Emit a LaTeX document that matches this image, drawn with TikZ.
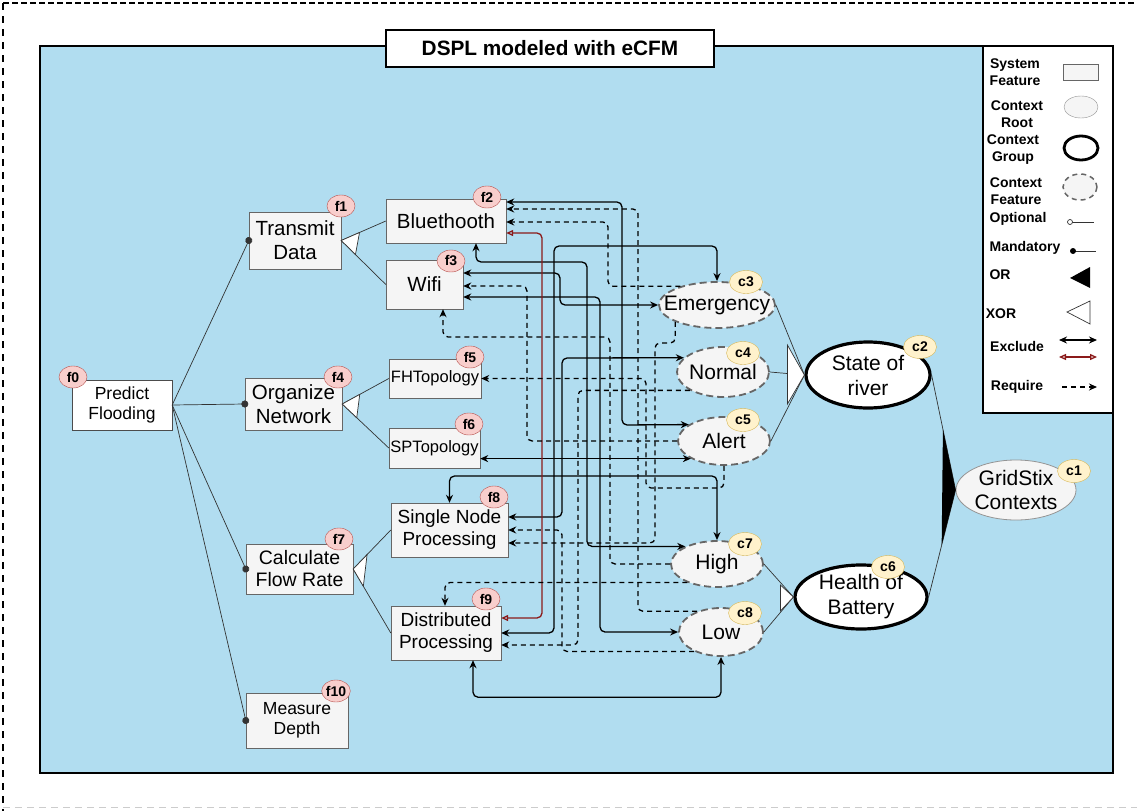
\documentclass[tikz,border=0pt]{standalone}
\usepackage{fontspec}
\setmainfont{Liberation Sans}
\usetikzlibrary{arrows.meta,calc,shapes.geometric}
\definecolor{panelblue}{HTML}{B1DDF0}
\definecolor{featfill}{HTML}{F5F5F5}
\definecolor{featline}{HTML}{666666}
\definecolor{fbadgefill}{HTML}{F8CECC}
\definecolor{fbadgeline}{HTML}{B85450}
\definecolor{cbadgefill}{HTML}{FFF2CC}
\definecolor{cbadgeline}{HTML}{D6B656}
\definecolor{exclred}{HTML}{8B1A1A}
\tikzset{
  feat/.style={draw=featline, fill=featfill, align=center, inner sep=0pt, font=\fontsize{20.5}{24}\selectfont},
  cfeat/.style={ellipse, draw=featline, fill=featfill, line width=1.8pt, dash pattern=on 7pt off 4pt,
    align=center, inner xsep=-14pt, inner ysep=-4pt, font=\fontsize{21}{25}\selectfont},
  cgroup/.style={ellipse, draw=black, line width=3.2pt, fill=white,
    align=center, inner xsep=-14pt, inner ysep=-4pt, font=\fontsize{21}{25}\selectfont},
  croot/.style={ellipse, draw=featline!70, line width=0.8pt, fill=featfill,
    align=center, inner xsep=-14pt, inner ysep=-4pt, font=\fontsize{21}{24}\selectfont},
  fbadge/.style={ellipse, draw=fbadgeline, fill=fbadgefill, inner sep=0pt, minimum width=28pt,
    minimum height=22pt, font=\bfseries\fontsize{14}{14}\selectfont},
  cbadge/.style={fbadge, draw=cbadgeline, fill=cbadgefill, minimum width=33pt, minimum height=23pt},
  lgtext/.style={align=center, inner sep=0pt, font=\bfseries\fontsize{14}{17}\selectfont},
  tree/.style={draw=black!80, line width=0.7pt},
  mand/.style={-{Circle[length=7pt]}, shorten >=-3.5pt},
  xorsym/.style={draw=black!80, line width=0.7pt, fill=white},
  excl/.style={line width=1.3pt, rounded corners=5pt,
    {Stealth[length=8pt,width=7pt]}-{Stealth[length=8pt,width=7pt]}},
  rexcl/.style={draw=exclred, line width=1.3pt, rounded corners=5pt,
    {Triangle[open,length=7pt,width=6pt]}-{Triangle[open,length=7pt,width=6pt]}},
  req/.style={line width=1.3pt, rounded corners=5pt, dash pattern=on 5pt off 4pt,
    -{Stealth[length=8pt,width=7pt]}}
}
\begin{document}
\begin{tikzpicture}[x=1pt,y=-1pt]
\useasboundingbox (0,0) rectangle (1137,811);
\draw[line width=2pt, dash pattern=on 6pt off 3pt] (3,3) -- (1137,3);
\draw[line width=1.5pt, dash pattern=on 7pt off 6pt] (3,3) -- (3,811);
\draw[black!20, line width=1pt, dash pattern=on 7pt off 5pt] (3,807) -- (1137,807);
\draw[fill=panelblue, line width=2.2pt] (40,46) rectangle (1113,773);
\node[draw, line width=1.4pt, fill=white, minimum width=328pt, minimum height=37pt,
  font=\bfseries\fontsize{20.8}{23}\selectfont] (title) at (550,48.5) {DSPL modeled with eCFM};

\draw[fill=white, line width=1.5pt] (983,46) rectangle (1113,413);
\node[lgtext] (lsys) at (1015,72) {System\\Feature};
\node[lgtext] (lroot) at (1017,114) {Context\\Root};
\node[lgtext] (lgrp) at (1013,150) {Context\\Group};
\node[lgtext] (lfeat) at (1016,191) {Context\\Feature};
\node[lgtext] (lopt) at (1018,219) {Optional};
\node[lgtext] (lmand) at (1025,248) {Mandatory};
\node[lgtext] (lor) at (1000,275) {OR};
\node[lgtext] (lxor) at (1001,314) {XOR};
\node[lgtext] (lexcl) at (1017,346) {Exclude};
\node[lgtext] (lreq) at (1017,387) {Require};
\draw[draw=featline, fill=featfill] (1063,64) rectangle (1098,80);
\draw[draw=featline!70, fill=featfill] (1081,107) ellipse [x radius=17, y radius=11];
\draw[line width=2.8pt, fill=white] (1081,148) ellipse [x radius=17, y radius=12];
\draw[draw=featline, fill=featfill, line width=1.5pt, dash pattern=on 5pt off 4pt] (1080,187) ellipse [x radius=17, y radius=13];
\draw[tree] (1072,222) -- (1094,222);
\draw[tree, fill=white] (1070,222) circle (2.5);
\draw[tree] (1073,251) -- (1096,251);
\fill (1073,251) circle (3);
\fill (1070,278) -- (1090,267) -- (1090,288) -- cycle;
\draw[xorsym] (1067,312) -- (1090,301) -- (1090,324) -- cycle;
\draw[excl] (1059,340) -- (1097,340);
\draw[rexcl] (1059,357) -- (1097,357);
\draw[req] (1062,387) -- (1097,387);

\node[feat, fill=white, draw=black!70, minimum width=100pt, minimum height=50pt,
  font=\fontsize{17.5}{20}\selectfont] (f0) at (122,405) {Predict\\Flooding};
\node[feat, minimum width=92pt, minimum height=57pt] (f1) at (295,240.5) {Transmit\\Data};
\node[feat, minimum width=120pt, minimum height=44pt] (f2) at (446,221) {Bluethooth};
\node[feat, minimum width=77pt, minimum height=49pt] (f3) at (424.5,284.5) {Wifi};
\node[feat, minimum width=97pt, minimum height=52pt] (f4) at (293.5,404) {Organize\\Network};
\node[feat, minimum width=92pt, minimum height=39pt, font=\fontsize{16.5}{19}\selectfont] (f5) at (435,378.5) {FHTopology};
\node[feat, minimum width=91pt, minimum height=40pt, font=\fontsize{16.5}{19}\selectfont] (f6) at (434.5,448) {SPTopology};
\node[feat, minimum width=107pt, minimum height=50pt, font=\fontsize{19.5}{22}\selectfont] (f7) at (299.5,569) {Calculate\\Flow Rate};
\node[feat, minimum width=117pt, minimum height=54pt, font=\fontsize{19}{22}\selectfont] (f8) at (449.5,530) {Single Node\\Processing};
\node[feat, minimum width=110pt, minimum height=54pt, font=\fontsize{19}{22}\selectfont] (f9) at (446,633) {Distributed\\Processing};
\node[feat, minimum width=102pt, minimum height=55pt, font=\fontsize{17.5}{20}\selectfont] (f10) at (297,720.5) {Measure\\Depth};

\node[croot, minimum width=120pt, minimum height=60pt] (c1) at (1016,490) {GridStix\\Contexts};
\node[cgroup, minimum width=124pt, minimum height=66pt] (c2) at (868,375) {State of\\river};
\node[cfeat, minimum width=116pt, minimum height=46pt] (c3) at (717,305) {Emergency};
\node[cfeat, minimum width=92pt, minimum height=50pt] (c4) at (723,372) {Normal};
\node[cfeat, minimum width=92pt, minimum height=48pt] (c5) at (724,441) {Alert};
\node[cgroup, minimum width=132pt, minimum height=64pt] (c6) at (861,597) {Health of\\Battery};
\node[cfeat, minimum width=92pt, minimum height=46pt] (c7) at (717,564) {High};
\node[cfeat, minimum width=84pt, minimum height=48pt] (c8) at (721,632) {Low};

\draw[tree, mand] (f0.east) -- (f1.west);
\draw[tree, mand] (f0.east) -- (f4.west);
\draw[tree, mand] (f0.east) -- (f7.west);
\draw[tree, mand] (f0.east) -- (f10.west);
\draw[tree] (f1.east) -- (f2.west);
\draw[tree] (f1.east) -- (f3.west);
\draw[tree] (f4.east) -- (f5.west);
\draw[tree] (f4.east) -- (f6.west);
\draw[tree] (f7.east) -- (f8.west);
\draw[tree] (f7.east) -- (f9.west);
\draw[xorsym] (f1.east) -- ($(f1.east)!20pt!(f2.west)$) -- ($(f1.east)!20pt!(f3.west)$) -- cycle;
\draw[xorsym] (f4.east) -- ($(f4.east)!20pt!(f5.west)$) -- ($(f4.east)!20pt!(f6.west)$) -- cycle;
\draw[xorsym] (f7.east) -- ($(f7.east)!20pt!(f8.west)$) -- ($(f7.east)!20pt!(f9.west)$) -- cycle;
\draw[tree] (c3.east) -- (c2.west);
\draw[tree] (c4.east) -- (c2.west);
\draw[tree] (c5.east) -- (c2.west);
\draw[tree] (c7.east) -- (c6.west);
\draw[tree] (c8.east) -- (c6.west);
\draw[tree] (c2.east) -- (c1.west);
\draw[tree] (c6.east) -- (c1.west);
\draw[xorsym] (c2.west) -- ++(-17,-30) -- ++(0,59) -- cycle;
\draw[xorsym] (c6.west) -- ++(-13,-12) -- ++(0,26) -- cycle;
\fill (c1.west) -- ($(c1.west)!62pt!(c2.east)$) -- ($(c1.west)!57pt!(c6.east)$) -- cycle;

\draw[excl] (f2.east |- 0,202) -| (622,425) -- (c5.155);
\draw[excl] (f2.south -| 476,0) |- (587,262) |- (c7.151);
\draw[excl] (f3.east |- 0,273) -| (560,305) -- (c3.west);
\draw[excl] (f3.east |- 0,297) -| (600,632) -- (c8.west);
\draw[excl] (f6.east |- c5.208) -- (c5.208);
\draw[excl] (f8.east |- 0,517) -| (562,358) -- (c4.160);
\draw[excl] (f8.north) |- (c7.north |- 0,476) -- (c7.north);
\draw[excl] (f9.east) -| (554,246) -| (c3.north);
\draw[excl] (f9.south -| 473,0) -- ++(0,37) -| (c8.south);
\draw[rexcl] (f2.east |- 0,233) -| (542,618) -- (f9.east |- 0,618);

\draw[req] (c8.139) -| (638,209) -- (f2.east |- 0,209);
\draw[req] (c3.153) -| (608,222) -- (f2.east |- 0,222);
\draw[req] (c5.west) -| (527,286) -- (f3.east |- 0,286);
\draw[req] (c7.west) -| (610,337) -| (f3.south -| 443,0);
\draw[req] (c5.south) |- (646,488) |- (f5.east);
\draw[req] (c3.202) |- (655,343) |- (f8.east |- 0,543);
\draw[req] (c4.209) -| (578,645) -- (f9.east |- 0,645);
\draw[req] (c8.216) -| (562,530) -- (f8.east |- 0,530);
\draw[req] (c7.212) -| (f9.north -| 445,0);

\node[fbadge] (bf0) at (73,377) {f0};
\node[fbadge] (bf1) at (341,206) {f1};
\node[fbadge] (bf2) at (487,197) {f2};
\node[fbadge] (bf3) at (451,261) {f3};
\node[fbadge] (bf4) at (338,377) {f4};
\node[fbadge] (bf5) at (470,357) {f5};
\node[fbadge] (bf6) at (469,424) {f6};
\node[fbadge] (bf7) at (339,539) {f7};
\node[fbadge] (bf8) at (494,497) {f8};
\node[fbadge] (bf9) at (486,599) {f9};
\node[fbadge] (bf10) at (336,691) {f10};
\node[cbadge] (bc1) at (1074,471) {c1};
\node[cbadge] (bc2) at (920,347) {c2};
\node[cbadge] (bc3) at (746,282) {c3};
\node[cbadge] (bc4) at (743,353) {c4};
\node[cbadge] (bc5) at (743,420) {c5};
\node[cbadge] (bc6) at (888,567) {c6};
\node[cbadge] (bc7) at (745,544) {c7};
\node[cbadge] (bc8) at (745,613) {c8};
\end{tikzpicture}
\end{document}
